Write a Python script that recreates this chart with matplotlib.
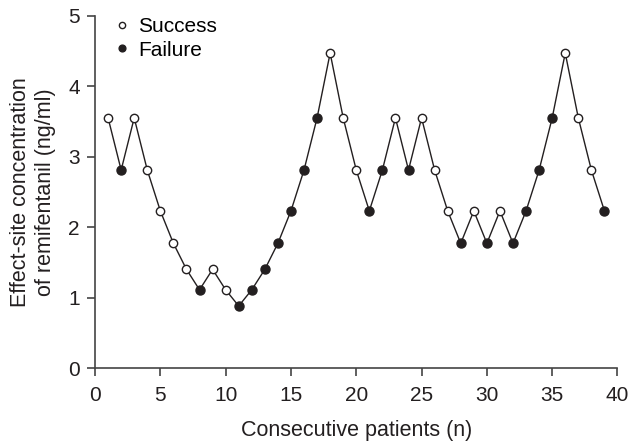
import matplotlib.pyplot as plt

plt.rcParams['font.family'] = ['Liberation Sans', 'DejaVu Sans']

# patient number and effect-site concentration (ng/ml)
patients = list(range(1, 40))
conc = [3.55, 2.81, 3.55, 2.81, 2.23, 1.77, 1.40, 1.11, 1.40, 1.11,
        0.88, 1.11, 1.40, 1.77, 2.23, 2.81, 3.55, 4.47, 3.55, 2.81,
        2.23, 2.81, 3.55, 2.81, 3.55, 2.81, 2.23, 1.77, 2.23, 1.77,
        2.23, 1.77, 2.23, 2.81, 3.55, 4.47, 3.55, 2.81, 2.23]
# 1 = success (open), 0 = failure (filled)
outcome = [1, 0, 1, 1, 1, 1, 1, 0, 1, 1,
           0, 0, 0, 0, 0, 0, 0, 1, 1, 1,
           0, 0, 1, 0, 1, 1, 1, 0, 1, 0,
           1, 0, 0, 0, 0, 1, 1, 1, 0]

ink = '#231f20'

fig = plt.figure(figsize=(6.31, 4.42), dpi=100)
ax = fig.add_axes([0.1506, 0.1674, 0.828, 0.797])

ax.plot(patients, conc, color=ink, lw=1.0, zorder=1)
xs = [p for p, o in zip(patients, outcome) if o == 1]
ys = [c for c, o in zip(conc, outcome) if o == 1]
xf = [p for p, o in zip(patients, outcome) if o == 0]
yf = [c for c, o in zip(conc, outcome) if o == 0]
ax.plot(xs, ys, 'o', ms=6, mfc='white', mec=ink, mew=1.0, ls='none', label='Success', zorder=2)
ax.plot(xf, yf, 'o', ms=6.5, mfc=ink, mec=ink, mew=1.0, ls='none', label='Failure', zorder=2)

ax.set_xlim(0, 40)
ax.set_ylim(0, 5)
ax.set_xticks(range(0, 41, 5))
ax.set_yticks(range(0, 6))
ax.spines['top'].set_visible(False)
ax.spines['right'].set_visible(False)
for s in ['left', 'bottom']:
    ax.spines[s].set_color('#444444')
    ax.spines[s].set_linewidth(1.2)
ax.tick_params(direction='out', length=5.5, width=1.2, color='#444444', labelsize=15,
               labelcolor=ink)
ax.tick_params(axis='x', pad=7.5)
ax.tick_params(axis='y', pad=5.5)

ax.set_xlabel('Consecutive patients (n)', fontsize=15.5, color=ink, labelpad=11)
ax.set_ylabel('Effect-site concentration\nof remifentanil (ng/ml)', fontsize=15.5, color=ink,
              labelpad=9, linespacing=1.2)

ax.legend(loc='upper left', frameon=False, fontsize=15, handletextpad=0.15, handlelength=1.2,
          borderaxespad=0.0, bbox_to_anchor=(0.012, 1.02), labelspacing=0.22, markerscale=0.75)

fig.savefig('out.png', dpi=100)
